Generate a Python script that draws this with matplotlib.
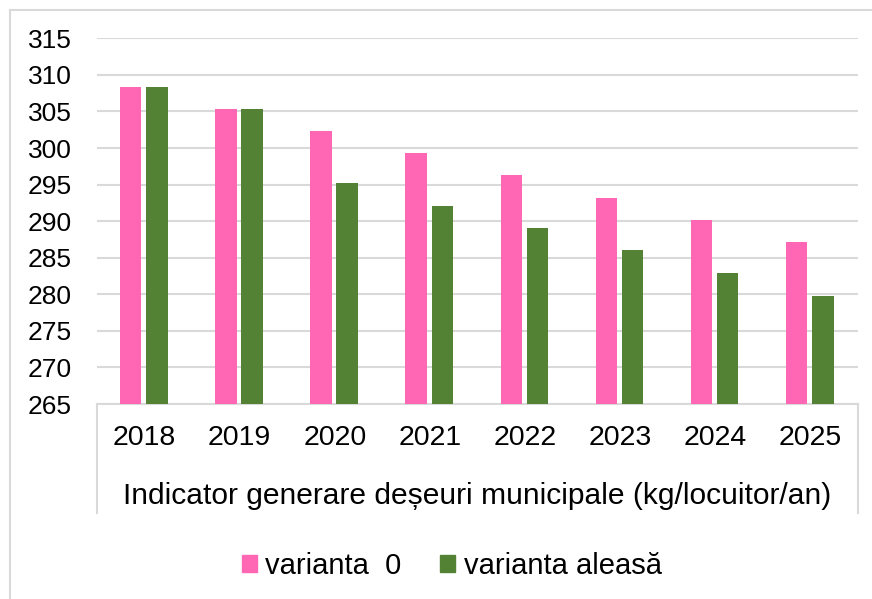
import matplotlib.pyplot as plt
import numpy as np
from matplotlib.patches import Patch
from matplotlib.lines import Line2D

plt.rcParams['font.family'] = ['Liberation Sans', 'DejaVu Sans']

ani = ["2018", "2019", "2020", "2021", "2022", "2023", "2024", "2025"]
varianta_0 = [308.4, 305.3, 302.3, 299.3, 296.3, 293.2, 290.2, 287.2]
varianta_aleasa = [308.4, 305.3, 295.2, 292.1, 289.0, 286.0, 282.9, 279.8]

titlu_axa = "Indicator generare deșeuri municipale (kg/locuitor/an)"
eticheta_0 = "varianta  0"
eticheta_a = "varianta aleasă"

roz = "#FF66B3"
verde = "#548235"
gri = "#D9D9D9"

W, H = 872, 599
fig = plt.figure(figsize=(W / 100, H / 100), dpi=100)
ax = fig.add_axes([97 / W, 1 - 404 / H, (858 - 97) / W, (404 - 38.3) / H])

x = np.arange(len(ani))
lat = 0.225
ax.bar(x - 0.145, varianta_0, lat, bottom=0, color=roz, zorder=3)
ax.bar(x + 0.13, varianta_aleasa, lat, bottom=0, color=verde, zorder=3)

ax.set_xlim(-0.5, len(ani) - 0.5)
ax.set_ylim(265, 315)
ax.set_yticks(np.arange(265, 316, 5))
ax.grid(axis="y", color=gri, linewidth=1.5, zorder=0)
ax.set_axisbelow(True)

for s in ["left", "right", "top"]:
    ax.spines[s].set_visible(False)
ax.spines["bottom"].set_color(gri)
ax.spines["bottom"].set_linewidth(1.5)

ax.set_xticks(x)
ax.set_xticklabels(ani)
ax.tick_params(axis="x", length=0, pad=15, labelsize=20.5)
ax.tick_params(axis="y", length=0, pad=18, labelsize=19)

# linii verticale ale axei pe doua niveluri
h_jos = (513 - 404) / (404 - 38.3)
for xx in [0, 1]:
    ax.plot([xx, xx], [0, -h_jos], transform=ax.transAxes, color=gri,
            linewidth=1.5, clip_on=False)

fig.text((97 + 858) / 2 / W, 1 - 504 / H, titlu_axa, ha="center",
         va="baseline", fontsize=21.6)

# chenarul graficului
fig.add_artist(Line2D([10 / W, 10 / W], [0, 1 - 10 / H], color=gri, linewidth=1.5))
fig.add_artist(Line2D([10 / W, 1], [1 - 10 / H, 1 - 10 / H], color=gri, linewidth=1.5))

handles = [Patch(color=roz), Patch(color=verde)]
fig.legend(handles, [eticheta_0, eticheta_a], loc="center",
           bbox_to_anchor=(451.5 / W, 1 - 566 / H), ncol=2, frameon=False,
           fontsize=21, handlelength=0.52, handleheight=0.52,
           handletextpad=0.3, columnspacing=1.3)

plt.savefig("out.png", dpi=100)
